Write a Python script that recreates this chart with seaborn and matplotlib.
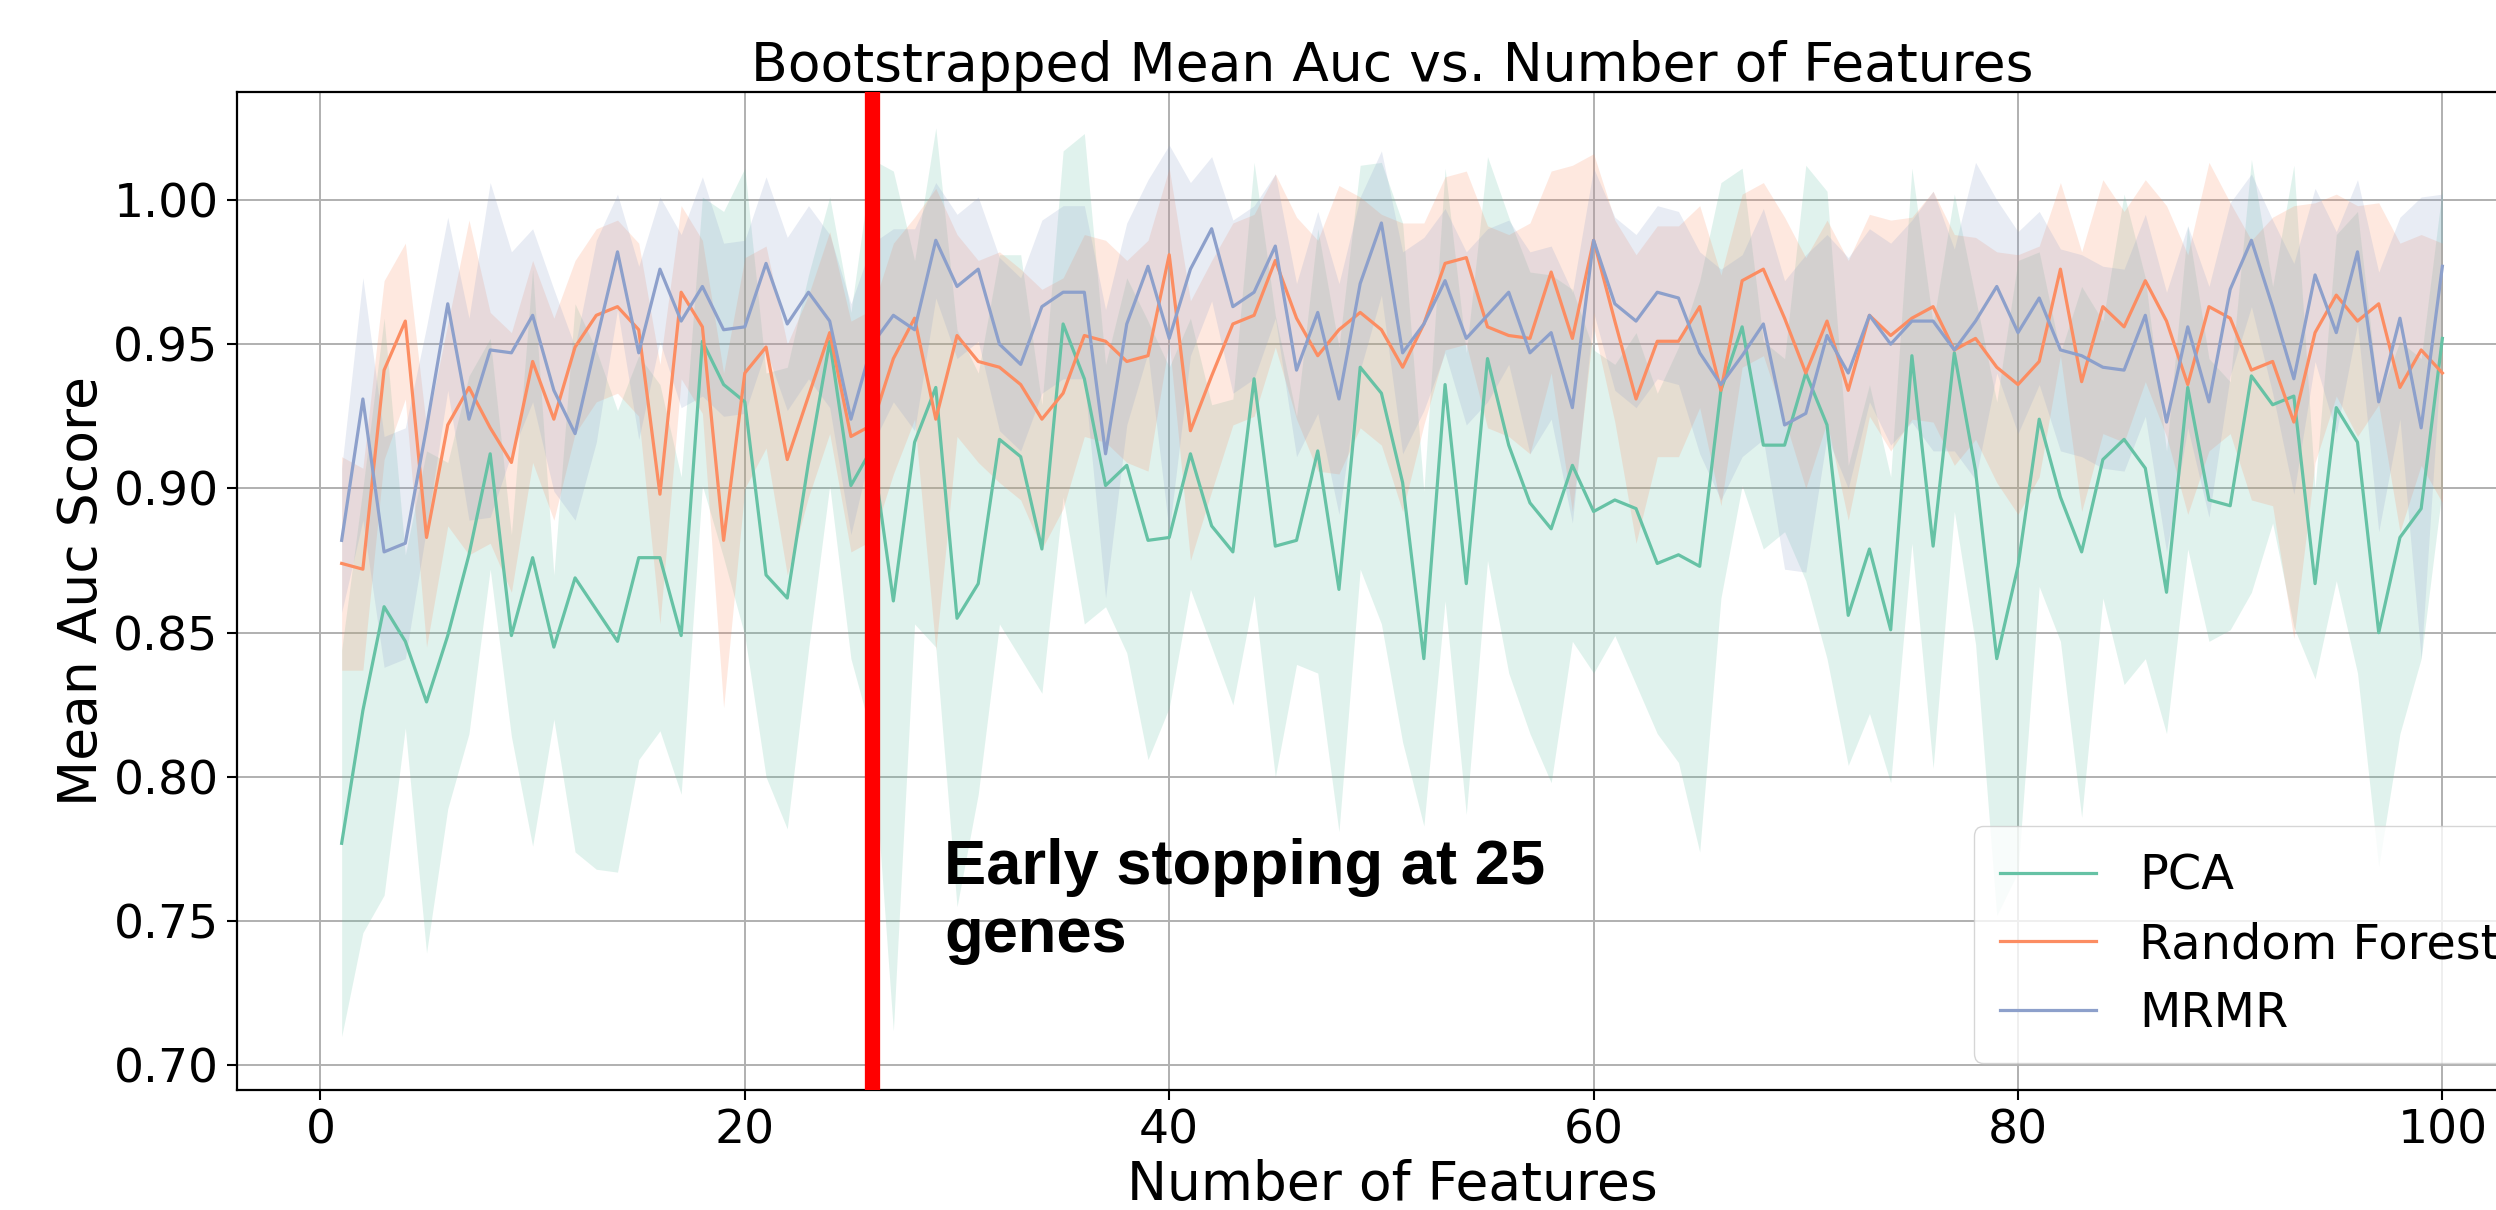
import numpy as np
import pandas as pd
import matplotlib
matplotlib.use("Agg")
import matplotlib.pyplot as plt
import seaborn as sns

# number of features used (1..100)
n_features = list(range(1, 101))

# bootstrapped mean auc per method
pca_mean = [0.777, 0.823, 0.859, 0.847, 0.826, 0.849, 0.877, 0.912, 0.849, 0.876,
            0.845, 0.869, 0.858, 0.847, 0.876, 0.876, 0.849, 0.951, 0.936, 0.930,
            0.870, 0.862, 0.909, 0.951, 0.901, 0.914, 0.861, 0.916, 0.935, 0.855,
            0.867, 0.917, 0.911, 0.879, 0.957, 0.938, 0.901, 0.908, 0.882, 0.883,
            0.912, 0.887, 0.878, 0.938, 0.880, 0.882, 0.913, 0.865, 0.942, 0.933,
            0.902, 0.841, 0.936, 0.867, 0.945, 0.915, 0.895, 0.886, 0.908, 0.892,
            0.896, 0.893, 0.874, 0.877, 0.873, 0.934, 0.956, 0.915, 0.915, 0.940,
            0.922, 0.856, 0.879, 0.851, 0.946, 0.880, 0.947, 0.906, 0.841, 0.873,
            0.924, 0.897, 0.878, 0.910, 0.917, 0.907, 0.864, 0.935, 0.896, 0.894,
            0.939, 0.929, 0.932, 0.867, 0.928, 0.916, 0.850, 0.883, 0.893, 0.952]

rf_mean = [0.874, 0.872, 0.941, 0.958, 0.883, 0.922, 0.935, 0.921, 0.909, 0.944,
           0.924, 0.949, 0.960, 0.963, 0.955, 0.898, 0.968, 0.956, 0.882, 0.940,
           0.949, 0.910, 0.932, 0.954, 0.918, 0.922, 0.945, 0.959, 0.924, 0.953,
           0.944, 0.942, 0.936, 0.924, 0.933, 0.953, 0.951, 0.944, 0.946, 0.981,
           0.920, 0.939, 0.957, 0.960, 0.979, 0.959, 0.946, 0.955, 0.961, 0.955,
           0.942, 0.957, 0.978, 0.980, 0.956, 0.953, 0.952, 0.975, 0.952, 0.986,
           0.958, 0.931, 0.951, 0.951, 0.963, 0.934, 0.972, 0.976, 0.959, 0.940,
           0.958, 0.934, 0.960, 0.953, 0.959, 0.963, 0.948, 0.952, 0.942, 0.936,
           0.944, 0.976, 0.937, 0.963, 0.956, 0.972, 0.958, 0.936, 0.963, 0.959,
           0.941, 0.944, 0.923, 0.954, 0.967, 0.958, 0.964, 0.935, 0.948, 0.940]

mrmr_mean = [0.882, 0.931, 0.878, 0.881, 0.921, 0.964, 0.924, 0.948, 0.947, 0.960,
             0.934, 0.919, 0.951, 0.982, 0.947, 0.976, 0.958, 0.970, 0.955, 0.956,
             0.978, 0.957, 0.968, 0.958, 0.924, 0.950, 0.960, 0.955, 0.986, 0.970,
             0.976, 0.950, 0.943, 0.963, 0.968, 0.968, 0.912, 0.957, 0.977, 0.952,
             0.976, 0.990, 0.963, 0.968, 0.984, 0.941, 0.961, 0.931, 0.971, 0.992,
             0.947, 0.957, 0.972, 0.952, 0.960, 0.968, 0.947, 0.954, 0.928, 0.986,
             0.964, 0.958, 0.968, 0.966, 0.947, 0.936, 0.946, 0.957, 0.922, 0.926,
             0.953, 0.940, 0.960, 0.950, 0.958, 0.958, 0.948, 0.958, 0.970, 0.954,
             0.966, 0.948, 0.946, 0.942, 0.941, 0.960, 0.923, 0.956, 0.930, 0.969,
             0.986, 0.963, 0.938, 0.974, 0.954, 0.982, 0.930, 0.959, 0.921, 0.977]

# spread of the bootstrap (shaded band = mean +/- std)
pca_std = [0.067, 0.077, 0.100, 0.030, 0.087, 0.060, 0.062, 0.040, 0.035, 0.100,
           0.025, 0.095, 0.090, 0.080, 0.070, 0.060, 0.055, 0.050, 0.060, 0.081,
           0.070, 0.080, 0.065, 0.050, 0.060, 0.100, 0.149, 0.063, 0.090, 0.100,
           0.073, 0.064, 0.070, 0.050, 0.060, 0.085, 0.042, 0.065, 0.076, 0.059,
           0.047, 0.042, 0.053, 0.075, 0.080, 0.043, 0.077, 0.084, 0.070, 0.080,
           0.090, 0.058, 0.075, 0.080, 0.070, 0.079, 0.080, 0.088, 0.061, 0.056,
           0.047, 0.061, 0.059, 0.072, 0.099, 0.072, 0.055, 0.036, 0.030, 0.072,
           0.081, 0.052, 0.057, 0.053, 0.065, 0.077, 0.055, 0.060, 0.089, 0.106,
           0.058, 0.050, 0.092, 0.048, 0.085, 0.066, 0.049, 0.056, 0.049, 0.043,
           0.075, 0.041, 0.080, 0.033, 0.060, 0.080, 0.081, 0.068, 0.052, 0.052]

rf_std = [0.037, 0.035, 0.031, 0.027, 0.038, 0.035, 0.058, 0.040, 0.045, 0.035,
          0.035, 0.030, 0.030, 0.030, 0.030, 0.045, 0.030, 0.030, 0.058, 0.040,
          0.035, 0.040, 0.035, 0.035, 0.040, 0.040, 0.040, 0.035, 0.080, 0.035,
          0.035, 0.040, 0.040, 0.045, 0.040, 0.035, 0.035, 0.035, 0.040, 0.030,
          0.045, 0.040, 0.035, 0.035, 0.030, 0.035, 0.040, 0.050, 0.040, 0.040,
          0.050, 0.035, 0.030, 0.030, 0.035, 0.035, 0.040, 0.035, 0.060, 0.030,
          0.035, 0.050, 0.040, 0.040, 0.035, 0.040, 0.030, 0.030, 0.035, 0.040,
          0.035, 0.045, 0.035, 0.040, 0.035, 0.040, 0.040, 0.035, 0.040, 0.045,
          0.040, 0.030, 0.045, 0.044, 0.040, 0.035, 0.040, 0.045, 0.050, 0.040,
          0.045, 0.050, 0.075, 0.045, 0.035, 0.040, 0.035, 0.050, 0.040, 0.045]

mrmr_std = [0.025, 0.042, 0.040, 0.040, 0.035, 0.030, 0.035, 0.058, 0.035, 0.030,
            0.035, 0.030, 0.035, 0.020, 0.030, 0.025, 0.030, 0.038, 0.030, 0.030,
            0.030, 0.030, 0.030, 0.030, 0.040, 0.035, 0.030, 0.035, 0.020, 0.025,
            0.025, 0.030, 0.030, 0.030, 0.030, 0.030, 0.050, 0.035, 0.030, 0.067,
            0.030, 0.025, 0.030, 0.030, 0.025, 0.030, 0.035, 0.040, 0.030, 0.025,
            0.035, 0.030, 0.025, 0.030, 0.030, 0.025, 0.035, 0.030, 0.040, 0.025,
            0.030, 0.030, 0.030, 0.030, 0.035, 0.040, 0.035, 0.040, 0.050, 0.055,
            0.035, 0.040, 0.030, 0.035, 0.035, 0.045, 0.035, 0.055, 0.030, 0.035,
            0.030, 0.035, 0.035, 0.035, 0.035, 0.035, 0.045, 0.035, 0.040, 0.030,
            0.023, 0.030, 0.040, 0.030, 0.035, 0.025, 0.045, 0.035, 0.080, 0.025]

metodos = ["PCA", "Random Forest", "MRMR"]
medias = [pca_mean, rf_mean, mrmr_mean]
desvios = [pca_std, rf_std, mrmr_std]

linhas = []
for metodo, mu, sd in zip(metodos, medias, desvios):
    for x, m, s in zip(n_features, mu, sd):
        linhas.append({"n_features": x, "mean_auc": m, "std": s, "metodo": metodo})
df = pd.DataFrame(linhas)

cores = sns.color_palette("Set2", 3)

fig = plt.figure(figsize=(24.96, 12.10), dpi=100)
# axes run past the right edge, as in the cropped original
ax = fig.add_axes([0.0948, 0.0992, 0.9258, 0.8250])

for metodo, cor in zip(metodos, cores):
    sub = df[df["metodo"] == metodo]
    ax.fill_between(sub["n_features"], sub["mean_auc"] - sub["std"],
                    sub["mean_auc"] + sub["std"], color=cor, alpha=0.2, lw=0)
    sns.lineplot(data=sub, x="n_features", y="mean_auc", color=cor,
                 lw=2.3, label=metodo, errorbar=None, ax=ax)

ax.axvline(26, color="red", lw=11, zorder=5)
ax.text(29.4, 0.7392, "Early stopping at 25\ngenes", fontsize=45.5,
        fontweight="bold", family="Liberation Sans", ha="left", va="baseline",
        zorder=6)

ax.set_xlim(-3.95, 104.95)
ax.set_ylim(0.6915, 1.0375)
ax.set_xticks([0, 20, 40, 60, 80, 100])
ax.set_yticks([0.70, 0.75, 0.80, 0.85, 0.90, 0.95, 1.00])
ax.set_yticklabels(["0.70", "0.75", "0.80", "0.85", "0.90", "0.95", "1.00"])
ax.grid(True, color="#b0b0b0", lw=1.4)
ax.set_axisbelow(True)
for s in ax.spines.values():
    s.set_linewidth(1.6)
ax.tick_params(labelsize=34, length=7, width=1.5, pad=6)

ax.set_title("Bootstrapped Mean Auc vs. Number of Features", fontsize=38.5, pad=8)
ax.set_xlabel("Number of Features", fontsize=38.5)
ax.set_ylabel("Mean Auc Score", fontsize=38.5)
# legend sits in the lower right; the original image is cropped through it
ax.legend(loc="lower left", bbox_to_anchor=(0.7518, 0.027), borderaxespad=0,
          fontsize=34.5, labelspacing=0.45, borderpad=0.55, handletextpad=0.9,
          framealpha=0.8)

fig.savefig("out.png", dpi=100)
